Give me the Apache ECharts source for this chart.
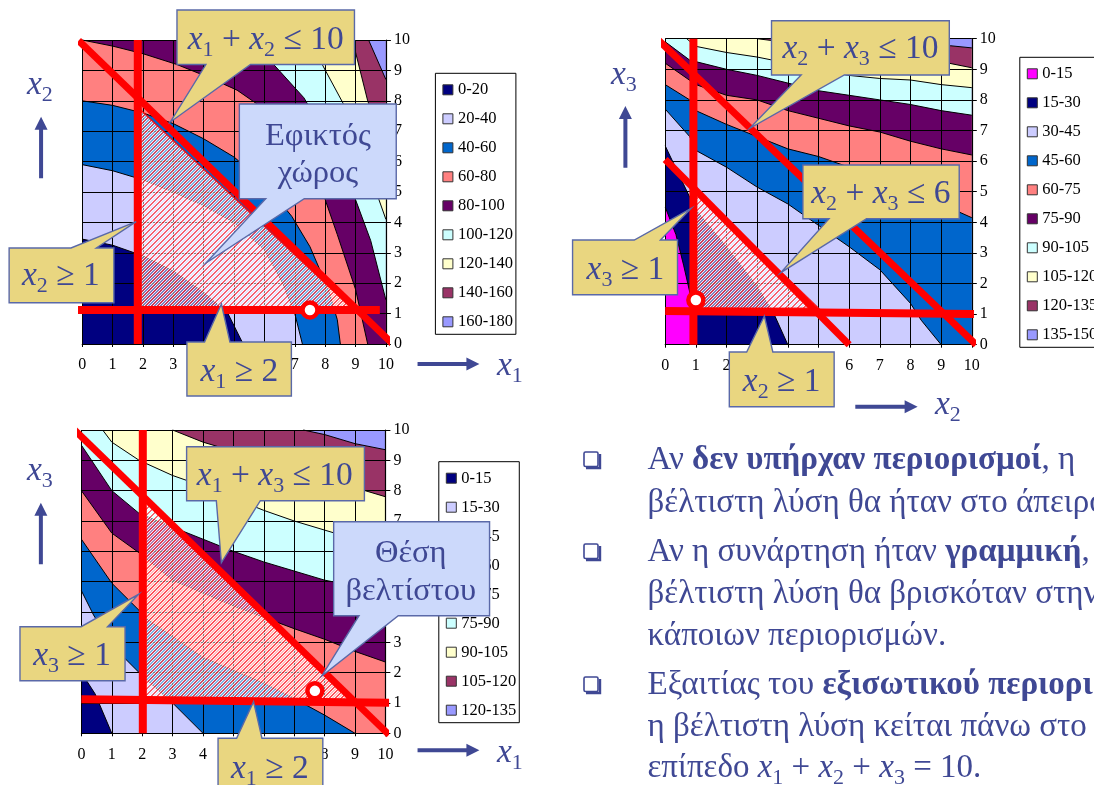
<!DOCTYPE html>
<html><head><meta charset="utf-8">
<style>html,body{margin:0;padding:0;background:#fff;overflow:hidden;width:1094px;height:785px}#c{width:1200px;height:850px}</style>
<script src="https://cdn.jsdelivr.net/npm/echarts@6/dist/echarts.min.js"></script>
</head><body><div id="c"></div>
<script>
// ---------- data ----------
const ticks = [0,1,2,3,4,5,6,7,8,9,10];

const bandsA = ['0-20','20-40','40-60','60-80','80-100','100-120','120-140','140-160','160-180'];
const colorsA = ['#000080','#CCCCFF','#0066CC','#FF8080','#660066','#CCFFFF','#FFFFCC','#993366','#9999FF'];
const contoursA = [
 [[0,3.45],[1,3.25],[2,2.9],[3,2.4],[4,1.7],[4.8,1],[5.3,0]],
 [[0,5.9],[1,5.7],[2,5.4],[3,5],[4,4.55],[5,4],[6,3.1],[6.6,2],[7,1],[7.25,0]],
 [[0,8],[1,7.85],[2,7.6],[3,7.25],[4,6.75],[5,6.15],[6,5.3],[6.9,4.2],[7.5,3.2],[8.1,1.8],[8.4,0.8],[8.5,0]],
 [[0,10],[1,9.8],[2,9.55],[3.1,9.2],[4.1,8.8],[5.1,8.35],[5.75,7.9],[7,6.4],[8,4.75],[8.4,3.6],[9,1.8],[9.4,0]],
 [[5.6,10],[6.3,9.2],[7.3,8.1],[8.3,6.4],[9,4.75],[9.5,3.4],[10,1.45]],
 [[7.4,10],[7.9,9.2],[8.6,7.9],[9.3,6.2],[9.77,4.75],[10,4.1]],
 [[8.9,10],[9.4,8],[10,6.4]],
 [[9.43,10],[10,8.7]]
];
const feasibleA = [[1.75,7.86],[1.75,1.06],[9,1.06]];
const redLinesA = [
 [[-0.12,9.98],[10.32,-0.09]],
 [[1.83,10],[1.83,0]],
 [[-0.15,1.12],[9.8,1.12]]
];
const optimumA = [[7.5,1.12]];

const bandsB = ['0-15','15-30','30-45','45-60','60-75','75-90','90-105','105-120','120-135','135-150'];
const colorsB = ['#FF00FF','#000080','#CCCCFF','#0066CC','#FF8080','#660066','#CCFFFF','#FFFFCC','#993366','#9999FF'];
const contoursB = [
 [[0,4.5],[0.35,3.6],[0.6,2.6],[0.85,1.5],[1,0]],
 [[0,6.5],[1,4.4],[2,3.2],[3,1.9],[3.55,1],[4,0]],
 [[0,7.7],[0.8,6.8],[1,6.35],[2,5.8],[3,5.15],[4,4.6],[5,3.9],[6,3.2],[7,2.45],[8,1.35],[8.35,0.8],[9,0]],
 [[0,8.5],[0.8,8],[1,7.65],[2,7.2],[3,6.8],[4,6.4],[5,6.15],[6,5.8],[7,5.4],[8,5],[9,4.6],[10,4.15]],
 [[0,9.2],[1,8.5],[2,8.15],[3,8],[4,7.65],[5,7.4],[6,7.15],[7,6.95],[8,6.65],[9,6.4],[10,6.2]],
 [[0,9.9],[0.8,9.3],[2,9],[3,8.8],[4,8.55],[5,8.3],[6,8.15],[7,8],[8,7.85],[9,7.65],[10,7.5]],
 [[0.7,10],[1,9.75],[2,9.55],[3,9.4],[4,9.2],[5,9],[6,8.8],[7,8.7],[8,8.65],[9,8.5],[10,8.4]],
 [[3,10],[5,9.75],[7,9.5],[9,9.25],[10,9.05]],
 [[7.5,10],[9.3,9.77],[10,9.7]]
];
const feasibleB = [[0.96,5.1],[0.96,1.19],[5,1.19]];
const redLinesB = [
 [[-0.27,10],[10.14,0]],
 [[0,6.05],[6,0]],
 [[0.92,10],[0.92,0]],
 [[0,1.1],[10.07,1]]
];
const optimumB = [[1,1.46]];

const bandsC = ['0-15','15-30','30-45','45-60','60-75','75-90','90-105','105-120','120-135'];
const colorsC = ['#000080','#CCCCFF','#0066CC','#FF8080','#660066','#CCFFFF','#FFFFCC','#993366','#9999FF'];
const contoursC = [
 [[0,2],[0.45,1.3],[1,0]],
 [[0,4.7],[0.4,3.9],[1,2.9],[2,1.9],[3,1],[4,0]],
 [[0,6.4],[1,4.95],[1.9,4.05],[2.1,3.8],[4,2.5],[6,1.65],[6.9,1.2],[8,0.6],[9,0]],
 [[0,8],[1,6.6],[1.9,5.95],[3,5.05],[5,4.2],[7,3.45],[8,3.1],[9,2.7],[10,2.35]],
 [[0,9.5],[1,8],[1.9,7.25],[3,6.8],[4,6.4],[5,6],[6,5.65],[7,5.35],[8,5.05],[9,4.85],[10,4.6]],
 [[0.7,10],[1,9.6],[1.9,9],[3,8.5],[4,8.15],[5,7.75],[6,7.35],[7,7],[8,6.7],[10,6.1]],
 [[3,10],[4,9.6],[5,9.3],[6,9],[7,8.7],[8,8.45],[9,8.1],[10,7.8]],
 [[7.3,10],[8,9.85],[9,9.55],[10,9.35]]
];
const feasibleC = [[2.04,7.78],[2.04,1.15],[8.93,1.04]];
const redLinesC = [
 [[-0.32,10.09],[10.12,-0.05]],
 [[2.02,10],[2.02,0]],
 [[0,1.12],[10.12,1.01]]
];
const optimumC = [[7.68,1.4]];

// ---------- text ----------
const INK = '#3F4894', GOLD = '#E9D680', SKY = '#CCD9FB', EDGE = '#5A69A8';
const SERIF = '"Liberation Serif","Times New Roman",serif';
const A = x=>x*1.0142, B = x=>560+(x-560)*1.0218;

const measure = document.createElement('canvas').getContext('2d');
function fontOf(kind, size){
  if (kind === 'i') return `italic ${size}px ${SERIF}`;
  if (kind === 's') return `${Math.round(size*0.66)}px ${SERIF}`;
  if (kind === 'b') return `bold ${size}px ${SERIF}`;
  return `${size}px ${SERIF}`;
}
function tokenWidth(t, size){ measure.font = fontOf(t[1], size); return measure.measureText(t[0]).width; }
function runs(x, y, tokens, size, anchor){
  const total = tokens.reduce((a,t)=>a+tokenWidth(t,size),0);
  let px = anchor === 'center' ? x - total/2 : x;
  const out = [];
  tokens.forEach(t=>{
    out.push({type:'text', x:px, y:y+(t[1]==='s'?size*0.3:0), z:110, silent:true,
      style:{text:t[0], font:fontOf(t[1],size), fill:INK, align:'left', verticalAlign:'middle'}});
    px += tokenWidth(t,size);
  });
  return out;
}
function callout(f, rect, base, tip, fill){
  const x0=f(rect[0]), y0=rect[1], x1=f(rect[2]), y1=rect[3], b0=f(base[0]), b1=f(base[1]), t=[f(tip[0]),tip[1]];
  let pts;
  if (t[1] < y0) pts = [[x0,y0],[b0,y0],t,[b1,y0],[x1,y0],[x1,y1],[x0,y1]];
  else pts = [[x0,y0],[x1,y0],[x1,y1],[b1,y1],t,[b0,y1],[x0,y1]];
  return {type:'polygon', z:105, silent:true, shape:{points:pts},
    style:{fill, stroke:EDGE, lineWidth:1.4, lineJoin:'miter'}};
}
function arrowRight(x0,x1,y){
  return {type:'polygon', z:105, silent:true,
    shape:{points:[[x0,y-2],[x1-13,y-2],[x1-13,y-6.5],[x1,y],[x1-13,y+6.5],[x1-13,y+2],[x0,y+2]]},
    style:{fill:INK}};
}
function arrowUp(x,y0,y1){
  return {type:'polygon', z:105, silent:true,
    shape:{points:[[x-2,y1],[x-2,y0+13],[x-6.5,y0+13],[x,y0],[x+6.5,y0+13],[x+2,y0+13],[x+2,y1]]},
    style:{fill:INK}};
}
function bullet(x,y){
  return [
    {type:'rect', z:105, silent:true, shape:{x:x+1,y:y+1,width:14,height:14.5,r:1.5},
      style:{fill:'#fff', stroke:INK, lineWidth:1.6}},
    {type:'polyline', z:105, silent:true, shape:{points:[[x+3,y+17],[x+17,y+17],[x+17,y+3]]},
      style:{fill:null, stroke:INK, lineWidth:2.4}}
  ];
}
const M = 33.5, T = 33, P = 32.5;
const sx = (n)=>[String(n),'s'];
const ix = ['x','i'];
const r = (t)=>[t,'r'];

const graphics = [
  // chart A
  callout(A,[174.5,10,349.5,64.5],[203,247],[168,122],GOLD),
  ...runs(A(262),40,[ix,sx(1),r(' + '),ix,sx(2),r(' ≤ 10')],M,'center'),
  callout(A,[236,104,390.7,198.7],[262,300],[203,263],SKY),
  ...runs(A(313.5),136,[r('Εφικτός')],P,'center'),
  ...runs(A(313.5),173,[r('χώρος')],P,'center'),
  callout(A,[9,248,112.3,302.7],[70,95],[134.3,221.7],GOLD),
  ...runs(A(60),276,[ix,sx(2),r(' ≥ 1')],M,'center'),
  callout(A,[184.3,342,287.3,396],[201.7,226.7],[218.3,304],GOLD),
  ...runs(A(236),372,[ix,sx(1),r(' ≥ 2')],M,'center'),
  arrowRight(A(411.7),A(472.7),364), ...runs(497,366,[ix,sx(1)],M,'left'),
  arrowUp(A(40.5),116.7,178.3), ...runs(27,85,[ix,sx(2)],M,'left'),
  // chart B
  callout(B,[767,20.7,941,75],[796,838.3],[745.7,128.3],GOLD),
  ...runs(B(854),49,[ix,sx(2),r(' + '),ix,sx(3),r(' ≤ 10')],M,'center'),
  callout(B,[797.7,165,950.7,218.7],[823.3,860],[776,272.7],GOLD),
  ...runs(B(874),194,[ix,sx(2),r(' + '),ix,sx(3),r(' ≤ 6')],M,'center'),
  callout(B,[572.3,240,675,294.7],[632.7,658.3],[688.3,208.3],GOLD),
  ...runs(B(624),270,[ix,sx(3),r(' ≥ 1')],M,'center'),
  callout(B,[725.7,352,828.3,406.7],[742.7,768.3],[760,316],GOLD),
  ...runs(B(777),382,[ix,sx(2),r(' ≥ 1')],M,'center'),
  arrowRight(B(849),B(910),406.7), ...runs(935,405,[ix,sx(2)],M,'left'),
  arrowUp(B(624),106,167.7), ...runs(611,75,[ix,sx(3)],M,'left'),
  // chart C
  callout(A,[184,446.7,359.3,500.7],[213.3,256.7],[218.3,562.7],GOLD),
  ...runs(A(271),476,[ix,sx(1),r(' + '),ix,sx(3),r(' ≤ 10')],M,'center'),
  callout(A,[329,521.7,482.7,615.7],[354,392.7],[317.3,676],SKY),
  ...runs(A(405),553,[r('Θέση')],P,'center'),
  ...runs(A(405),591,[r('βελτίστου')],P,'center'),
  callout(A,[19.7,626.7,123.3,680.7],[80,106],[136.7,594.3],GOLD),
  ...runs(A(71),656,[ix,sx(3),r(' ≥ 1')],M,'center'),
  callout(A,[215,738.3,318.3,796],[233.3,258.3],[250,701.7],GOLD),
  ...runs(A(266),769,[ix,sx(1),r(' ≥ 2')],M,'center'),
  arrowRight(A(411.7),A(472.7),750.3), ...runs(497,753,[ix,sx(1)],M,'left'),
  arrowUp(A(40.3),502.7,564.3), ...runs(27,471,[ix,sx(3)],M,'left'),
  // text block
  ...bullet(583,451),
  ...runs(647.5,460,[r('Αν '),['δεν υπήρχαν περιορισμοί','b'],r(', η')],T,'left'),
  ...runs(647.5,503,[r('βέλτιστη λύση θα ήταν στο άπειρο.')],T,'left'),
  ...bullet(583,543),
  ...runs(647.5,552,[r('Αν η συνάρτηση ήταν '),['γραμμική','b'],r(', η')],T,'left'),
  ...runs(647.5,594,[r('βέλτιστη λύση θα βρισκόταν στην τομή')],T,'left'),
  ...runs(647.5,636,[r('κάποιων περιορισμών.')],T,'left'),
  ...bullet(583,676),
  ...runs(647.5,685,[r('Εξαιτίας του '),['εξισωτικού περιορισμού','b'],r(',')],T,'left'),
  ...runs(647.5,727,[r('η βέλτιστη λύση κείται πάνω στο')],T,'left'),
  ...runs(647.5,768,[r('επίπεδο '),ix,sx(1),r(' + '),ix,sx(2),r(' + '),ix,sx(3),r(' = 10.')],T,'left')
];

// ---------- hatch for the feasible region ----------
function hatch(){
  const n = 6, c = document.createElement('canvas'); c.width = c.height = n;
  const g = c.getContext('2d'), img = g.createImageData(n,n);
  const phase = [[255,70,80,0.8],[255,70,80,0.8],[255,255,255,0.92],[255,255,255,0.5],[255,255,255,0.5],[255,255,255,0.92]];
  for (let y=0;y<n;y++) for (let x=0;x<n;x++){
    const p = phase[(x+y)%n], o = (y*n+x)*4;
    img.data[o]=p[0]; img.data[o+1]=p[1]; img.data[o+2]=p[2]; img.data[o+3]=Math.round(p[3]*255);
  }
  g.putImageData(img,0,0);
  return c;
}
const hatchImg = hatch();

// ---------- one panel ----------
const panels = [
  {bands:bandsA, colors:colorsA, contours:contoursA, feasible:feasibleA, red:redLinesA, opt:optimumA,
   grid:{left:82.2,top:40,width:303.7,height:304}, legend:{left:435.4,top:73.3}},
  {bands:bandsB, colors:colorsB, contours:contoursB, feasible:feasibleB, red:redLinesB, opt:optimumB,
   grid:{left:665.2,top:38.7,width:306.6,height:306}, legend:{left:1019.8,top:57.3}},
  {bands:bandsC, colors:colorsC, contours:contoursC, feasible:feasibleC, red:redLinesC, opt:optimumC,
   grid:{left:81.4,top:430,width:304,height:303.3}, legend:{left:438.8,top:461.7}}
];

function closeRegion(pts){
  const out = pts.slice(), a = pts[0], b = pts[pts.length-1];
  if (b[1] === 0) out.push([10,0]);
  out.push([10,10]);
  if (a[0] === 0) out.push([0,10]);
  return out;
}
const grids=[], xAxes=[], yAxes=[], legends=[], series=[];
const axisFont = {color:'#000', fontFamily:SERIF, fontSize:16};
panels.forEach((p,k)=>{
  grids.push({...p.grid, show:false});
  const common = {type:'value', min:0, max:10, interval:1, gridIndex:k, z:5,
    axisLine:{show:true, onZero:false, lineStyle:{color:'#000',width:1.2}},
    splitLine:{show:true, lineStyle:{color:'#000',width:1}}, minorTick:{show:false}};
  xAxes.push({...common, position:'bottom', axisTick:{show:true,length:3,lineStyle:{color:'#000'}},
    axisLabel:{...axisFont, margin:13, showMinLabel:true, showMaxLabel:true,
      formatter:v=>ticks.includes(v)?String(v):''}});
  yAxes.push({...common, position:'right', axisTick:{show:true,length:5,lineStyle:{color:'#000'}},
    axisLabel:{...axisFont, margin:8, showMinLabel:true, showMaxLabel:true,
      formatter:v=>ticks.includes(v)?String(v):''}});
  p.bands.forEach((name,i)=>{
    const line = i>0 ? p.contours[i-1] : null;
    const poly = line ? closeRegion(line) : [[0,0],[10,0],[10,10],[0,10]];
    series.push({type:'custom', name, coordinateSystem:'cartesian2d', xAxisIndex:k, yAxisIndex:k, z:2+i*0.01, silent:true,
      animation:false, itemStyle:{color:p.colors[i]}, encode:{x:0,y:1}, data:poly,
      renderItem(params,api){
        if (params.dataIndex!==0) return null;
        const children=[{type:'polygon',shape:{points:poly.map(q=>api.coord(q))},style:{fill:p.colors[i]}}];
        if (line) children.push({type:'polyline',shape:{points:line.map(q=>api.coord(q))},style:{fill:null,stroke:'#000',lineWidth:1}});
        return {type:'group',children};
      }});
  });
  series.push({type:'custom', coordinateSystem:'cartesian2d', xAxisIndex:k, yAxisIndex:k, z:6, silent:true, animation:false,
    encode:{x:0,y:1}, data:p.feasible,
    renderItem(params,api){
      if (params.dataIndex!==0) return null;
      return {type:'polygon',shape:{points:p.feasible.map(q=>api.coord(q))},
        style:{fill:{image:hatchImg,repeat:'repeat'},stroke:'rgba(255,0,0,0.85)',lineWidth:1.5}};
    }});
  p.red.forEach((seg,n)=>{
    const diag = seg[0][0]!==seg[1][0] && Math.abs(seg[0][1]-seg[1][1])>2;
    series.push({type:'line', xAxisIndex:k, yAxisIndex:k, z:7, silent:true, animation:false, clip:false,
      showSymbol:false, data:seg, lineStyle:{color:'#FF0000',width:diag?7:8,cap:'butt'}});
  });
  series.push({type:'scatter', xAxisIndex:k, yAxisIndex:k, z:8, silent:true, animation:false, clip:false,
    symbol:'circle', symbolSize:15, data:p.opt, itemStyle:{color:'#fff',borderColor:'#FF0000',borderWidth:4.5,opacity:1}});
  legends.push({orient:'vertical', left:p.legend.left, top:p.legend.top, selectedMode:false, icon:'rect',
    itemWidth:10, itemHeight:10, itemGap:12, padding:[8,3,4,7], backgroundColor:'#fff', borderColor:'#000', borderWidth:1,
    textStyle:{color:'#000',fontFamily:SERIF,fontSize:16.5}, z:4,
    data:p.bands.map((name,i)=>({name,itemStyle:{color:p.colors[i],borderColor:'#333',borderWidth:1}}))});
});

const chart = echarts.init(document.getElementById('c'), null, {renderer:'canvas', width:1200, height:850});
chart.setOption({animation:false, backgroundColor:'#fff', tooltip:{show:false},
  grid:grids, xAxis:xAxes, yAxis:yAxes, legend:legends, series, graphic:{elements:graphics}});
</script></body></html>
